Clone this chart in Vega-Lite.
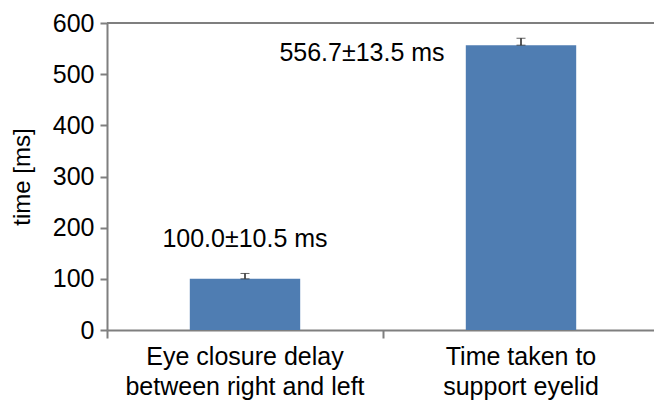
{
  "$schema": "https://vega.github.io/schema/vega-lite/v6.json",
  "width": 552,
  "height": 307,
  "padding": {"left": 107, "top": 23, "right": 0, "bottom": 71},
  "autosize": {"type": "none"},
  "background": "white",
  "config": {
    "view": {"stroke": null},
    "font": "Liberation Sans",
    "axis": {"grid": false, "domainColor": "#7f7f7f", "domainWidth": 2, "tickColor": "#7f7f7f", "tickWidth": 2}
  },
  "data": {
    "values": [
      {"measure": "Eye closure delay between right and left", "mean": 100.0, "sd": 10.5, "upper": 110.5, "label": "100.0±10.5 ms"},
      {"measure": "Time taken to support eyelid", "mean": 556.7, "sd": 13.5, "upper": 570.2, "label": "556.7±13.5 ms"}
    ]
  },
  "encoding": {
    "x": {
      "field": "measure",
      "type": "nominal",
      "sort": null,
      "scale": {"paddingInner": 0, "paddingOuter": 0},
      "axis": {
        "title": null,
        "labelAngle": 0,
        "labelFontSize": 25,
        "labelColor": "black",
        "labelLimit": 0,
        "labelExpr": "datum.value == 'Eye closure delay between right and left' ? ['Eye closure delay', 'between right and left'] : ['Time taken to', 'support eyelid']",
        "labelLineHeight": 30,
        "labelPadding": 6,
        "bandPosition": 0,
        "tickSize": 8
      }
    }
  },
  "layer": [
    {
      "mark": {"type": "rule", "color": "#7f7f7f", "strokeWidth": 2},
      "encoding": {"x": null, "y": {"datum": 600, "type": "quantitative"}}
    },
    {
      "mark": {"type": "bar", "color": "#4f7db2", "width": {"band": 0.4}},
      "encoding": {
        "y": {
          "field": "mean",
          "type": "quantitative",
          "scale": {"domain": [0, 600], "nice": false},
          "axis": {
            "title": "time [ms]",
            "titleFontSize": 24,
            "titleFontWeight": "normal",
            "titleColor": "black",
            "titlePadding": 18,
            "values": [0, 100, 200, 300, 400, 500, 600],
            "labelFontSize": 25,
            "labelColor": "black",
            "labelPadding": 6,
            "tickSize": 7
          }
        }
      }
    },
    {
      "mark": {"type": "errorbar", "ticks": {"size": 9, "color": "#222"}, "rule": {"color": "#222", "strokeWidth": 1.5}},
      "encoding": {
        "y": {"field": "mean", "type": "quantitative", "title": "time [ms]"},
        "y2": {"field": "upper"}
      }
    },
    {
      "transform": [{"filter": "datum.mean < 300"}],
      "mark": {"type": "text", "fontSize": 25, "color": "black", "dy": -34, "baseline": "middle"},
      "encoding": {
        "y": {"field": "upper", "type": "quantitative", "title": "time [ms]"},
        "text": {"field": "label"}
      }
    },
    {
      "transform": [{"filter": "datum.mean >= 300"}],
      "mark": {"type": "text", "fontSize": 25, "color": "black", "dx": -159, "dy": 15, "baseline": "middle"},
      "encoding": {
        "y": {"field": "upper", "type": "quantitative", "title": "time [ms]"},
        "text": {"field": "label"}
      }
    }
  ]
}
